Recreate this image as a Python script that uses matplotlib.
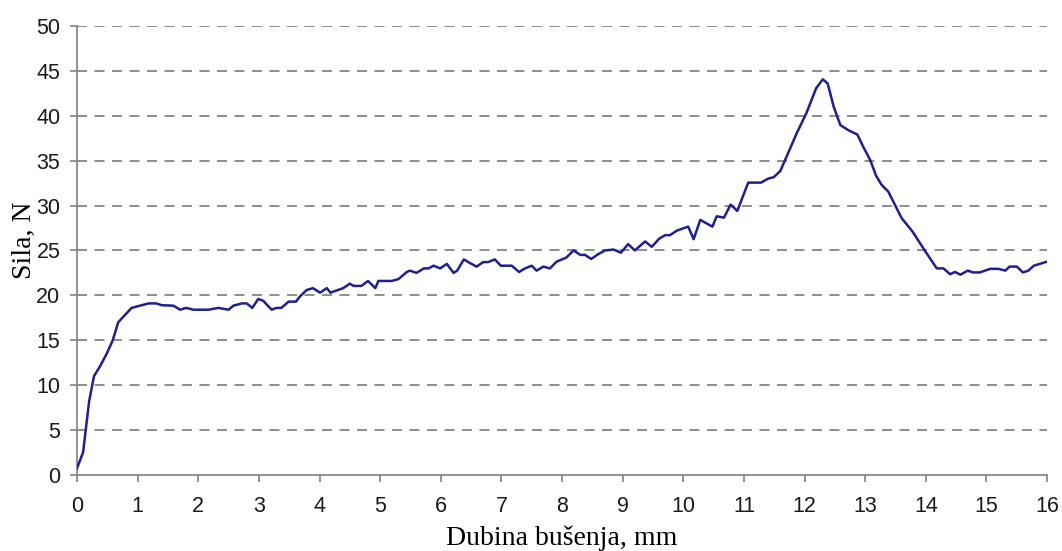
import matplotlib
matplotlib.use("Agg")
import matplotlib.pyplot as plt

# Drilling depth (mm) vs. force (N)
depth = [
    0.00, 0.10, 0.20, 0.28, 0.38, 0.49, 0.59, 0.68, 0.79, 0.90,
    1.01, 1.18, 1.31, 1.40, 1.59, 1.70, 1.80, 1.92, 2.17, 2.33,
    2.50, 2.58, 2.72, 2.80, 2.89, 2.99, 3.07, 3.21, 3.29, 3.37,
    3.49, 3.61, 3.68, 3.79, 3.89, 4.01, 4.12, 4.18, 4.39, 4.50,
    4.56, 4.69, 4.80, 4.92, 4.97, 5.19, 5.30, 5.44, 5.49, 5.60,
    5.72, 5.80, 5.88, 5.99, 6.10, 6.21, 6.27, 6.38, 6.48, 6.59,
    6.70, 6.78, 6.89, 6.99, 7.17, 7.29, 7.39, 7.50, 7.58, 7.69,
    7.80, 7.91, 8.07, 8.19, 8.30, 8.38, 8.48, 8.60, 8.71, 8.85,
    8.97, 9.09, 9.20, 9.37, 9.48, 9.60, 9.70, 9.78, 9.89, 10.08,
    10.17, 10.28, 10.48, 10.55, 10.67, 10.78, 10.89, 11.07, 11.28, 11.40,
    11.49, 11.60, 11.68, 11.87, 12.03, 12.19, 12.30, 12.38, 12.48, 12.59,
    12.72, 12.87, 12.97, 13.08, 13.18, 13.27, 13.38, 13.60, 13.78, 13.99,
    14.18, 14.29, 14.40, 14.48, 14.57, 14.69, 14.78, 14.89, 15.06, 15.20,
    15.31, 15.38, 15.50, 15.60, 15.69, 15.78, 16.00,
]
force = [
    0.75, 2.5, 8.2, 11.0, 12.1, 13.5, 15.0, 17.0, 17.8, 18.6,
    18.8, 19.1, 19.1, 18.9, 18.85, 18.4, 18.6, 18.4, 18.4, 18.6,
    18.4, 18.85, 19.1, 19.1, 18.6, 19.6, 19.4, 18.4, 18.6, 18.6,
    19.3, 19.3, 19.9, 20.6, 20.8, 20.3, 20.8, 20.3, 20.8, 21.3,
    21.05, 21.05, 21.6, 20.8, 21.6, 21.6, 21.8, 22.6, 22.75, 22.5,
    23.0, 23.0, 23.3, 23.0, 23.5, 22.5, 22.75, 24.0, 23.6, 23.2,
    23.7, 23.7, 24.0, 23.3, 23.3, 22.6, 23.0, 23.3, 22.75, 23.2,
    23.0, 23.75, 24.2, 25.0, 24.5, 24.5, 24.05, 24.6, 25.0, 25.1,
    24.75, 25.7, 25.0, 26.0, 25.4, 26.3, 26.7, 26.7, 27.2, 27.65,
    26.25, 28.4, 27.65, 28.8, 28.65, 30.1, 29.4, 32.55, 32.55, 33.0,
    33.15, 33.85, 35.1, 38.05, 40.3, 43.05, 44.05, 43.6, 41.0, 38.95,
    38.4, 37.9, 36.5, 35.1, 33.3, 32.3, 31.55, 28.6, 27.1, 24.9,
    23.0, 23.0, 22.35, 22.6, 22.3, 22.75, 22.55, 22.55, 22.95, 22.95,
    22.75, 23.2, 23.2, 22.55, 22.75, 23.3, 23.75,
]

x_ticks = list(range(0, 17))
y_ticks = list(range(0, 51, 5))

fig = plt.figure(figsize=(10.62, 5.51), dpi=100)
ax = fig.add_axes([0.0725, 0.138, 0.9135, 0.815])

ax.plot(depth, force, color="#1f1f8f", lw=1.8, zorder=3)

ax.set_xlim(0, 16)
ax.set_ylim(0, 50)
ax.set_xticks(x_ticks)
ax.set_yticks(y_ticks)

for y in y_ticks[1:]:
    ax.axhline(y, color="#7a7a7a", lw=1.2, ls=(0, (6, 4.5)), zorder=1)

for s in ["top", "right"]:
    ax.spines[s].set_visible(False)
for s in ["left", "bottom"]:
    ax.spines[s].set_color("#808080")
    ax.spines[s].set_linewidth(1.2)

ax.tick_params(axis="both", colors="#808080", length=5, width=1.2,
               labelcolor="#1a1a1a", labelsize=15.5)
ax.tick_params(axis="x", pad=10)
ax.tick_params(axis="y", pad=7)
for lab in ax.get_xticklabels() + ax.get_yticklabels():
    lab.set_family("Liberation Sans")

ax.set_xlabel("Dubina bušenja, mm", fontsize=20, family="Liberation Serif",
              labelpad=6)
ax.set_ylabel("Sila, N", fontsize=20, family="Liberation Serif")
ax.yaxis.set_label_coords(-0.041, 0.523)

fig.savefig("out.png", dpi=100)
